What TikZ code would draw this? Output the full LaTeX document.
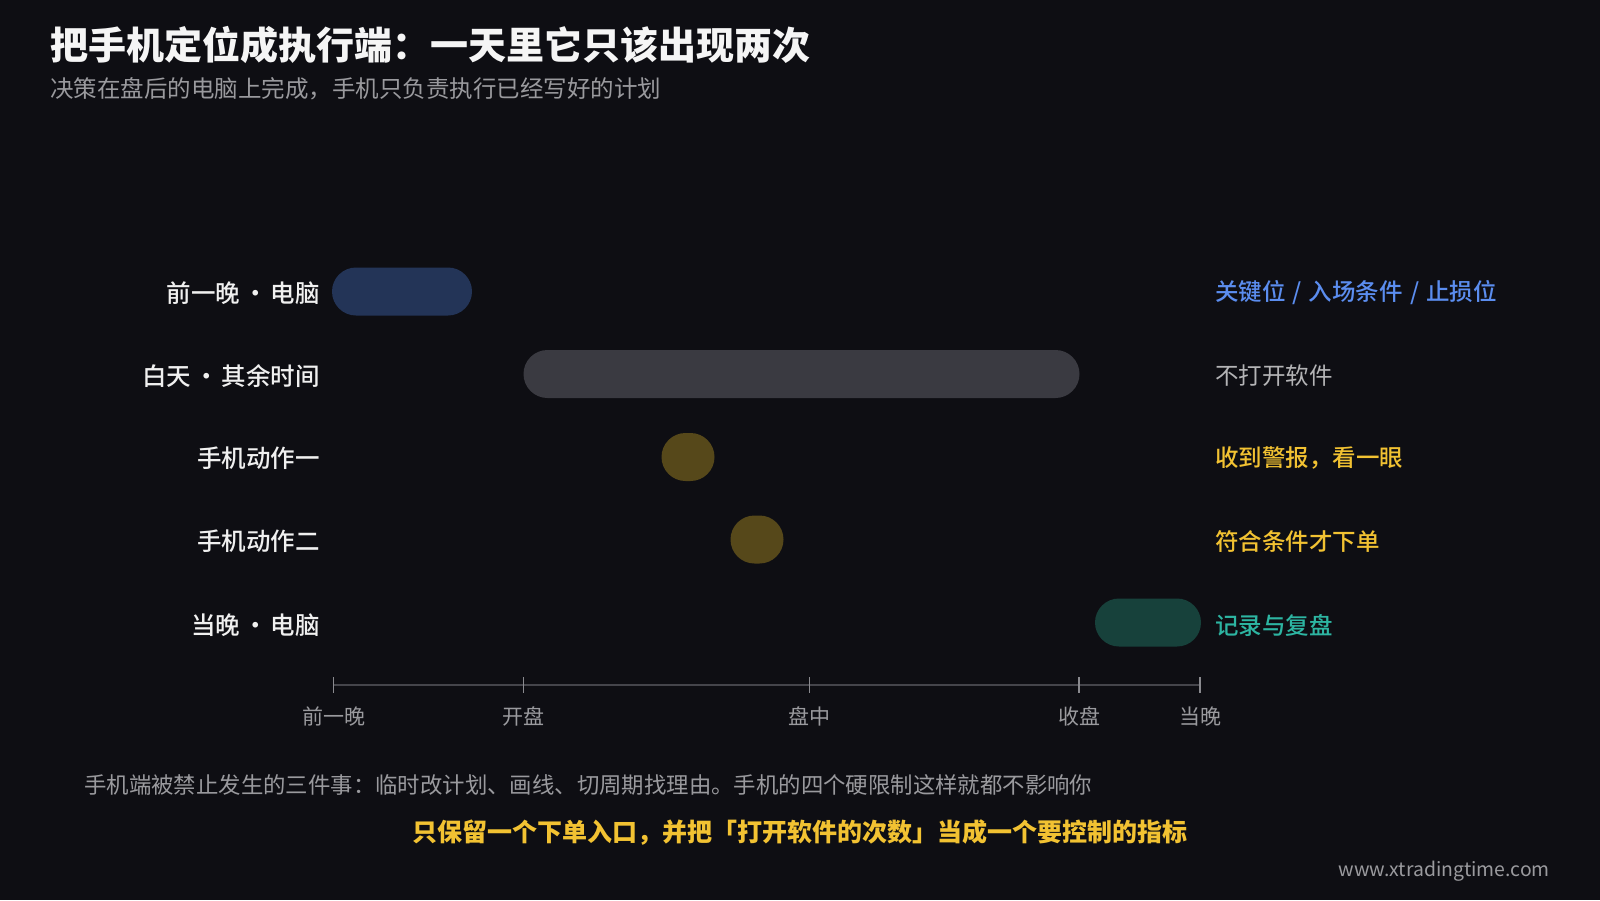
\documentclass[tikz,border=0pt]{standalone}
\usepackage{fontspec}
\setmainfont{Noto Sans CJK SC}
\newfontfamily\medfont{Noto Sans CJK SC Medium}
\usepackage{tikz}
\usetikzlibrary{positioning}

\definecolor{bgdark}{HTML}{0E0E13}
\definecolor{barblue}{HTML}{233457}
\definecolor{bargray}{HTML}{3A3A41}
\definecolor{barolive}{HTML}{56481A}
\definecolor{barteal}{HTML}{17413B}
\definecolor{txtblue}{HTML}{5B8DEF}
\definecolor{txtgray}{HTML}{B4B4B6}
\definecolor{txtyellow}{HTML}{F2C232}
\definecolor{txtteal}{HTML}{2DB5A2}
\definecolor{dimgray}{HTML}{9A9A9E}
\definecolor{axisgray}{HTML}{45454B}
\definecolor{tickgray}{HTML}{8A8A8F}

\def\fsize#1{\fontsize{#1}{#1}\selectfont}
\def\sdot{\hspace{0.12em}·\hspace{0.12em}}
\def\sslash{\hspace{0.3em}/\hspace{0.3em}}

\tikzset{
	rowlabel/.style={anchor=east, inner sep=0pt, text=white!94!black, font=\medfont\fsize{24.5}},
	notelabel/.style={anchor=west, inner sep=0pt, font=\medfont\fsize{23.5}},
	pill/.style={inner sep=0pt, minimum height=48pt, rounded corners=24pt},
	ticklabel/.style={inner sep=0pt, text=dimgray, font=\fsize{21}},
}

\begin{document}
\begin{tikzpicture}[x=1pt, y=-1pt]
			%%%%% START %%%%%
			
			\fill[bgdark] (0,0) rectangle (1600,900);
			\useasboundingbox (0,0) rectangle (1600,900);
			
			\node[anchor=west, inner sep=0pt, text=white!96!black, font=\bfseries\fsize{38}] (title) at (50,45) {把手机定位成执行端：一天里它只该出现两次};
			\node[anchor=west, inner sep=0pt, text=dimgray, font=\fsize{23.5}] (subtitle) at (50,89) {决策在盘后的电脑上完成，手机只负责执行已经写好的计划};
			
			\node[rowlabel] (lab1) at (320,293) {前一晚\sdot 电脑};
			\node[pill, fill=barblue, minimum width=140pt] (bar1) at (402,291.5) {};
			\node[notelabel, text=txtblue] (note1) at (1215,293) {关键位\sslash 入场条件\sslash 止损位};
			
			\node[rowlabel] (lab2) at (320,376) {白天\sdot 其余时间};
			\node[pill, fill=bargray, minimum width=556pt] (bar2) at (801.5,374) {};
			\node[notelabel, text=txtgray, font=\fsize{23.5}] (note2) at (1215,376) {不打开软件};
			
			\node[rowlabel] (lab3) at (320,458) {手机动作一};
			\node[pill, fill=barolive, minimum width=53pt] (dot1) at (688,457) {};
			\node[notelabel, text=txtyellow] (note3) at (1215,458) {收到警报，看一眼};
			
			\node[rowlabel] (lab4) at (320,541) {手机动作二};
			\node[pill, fill=barolive, minimum width=53pt] (dot2) at (757,539.5) {};
			\node[notelabel, text=txtyellow] (note4) at (1215,541.5) {符合条件才下单};
			
			\node[rowlabel] (lab5) at (320,625) {当晚\sdot 电脑};
			\node[pill, fill=barteal, minimum width=106pt] (bar5) at (1148,622.5) {};
			\node[notelabel, text=txtteal] (note5) at (1215,625) {记录与复盘};
			
			\coordinate (t0) at (333.5,685);
			\coordinate (t1) at (523.5,685);
			\coordinate (t2) at (809.5,685);
			\coordinate (t3) at (1079,685);
			\coordinate (t4) at (1200,685);
			\draw[line width=2pt, color=axisgray] (t0) -- (t4);
			\draw[line width=1.5pt, color=tickgray] (t0) ++(0,-8) -- ++(0,16);
			\draw[line width=1.5pt, color=tickgray] (t1) ++(0,-8) -- ++(0,16);
			\draw[line width=1.5pt, color=tickgray] (t2) ++(0,-8) -- ++(0,16);
			\draw[line width=1.5pt, color=tickgray] (t3) ++(0,-8) -- ++(0,16);
			\draw[line width=1.5pt, color=tickgray] (t4) ++(0,-8) -- ++(0,16);
			
			\node[ticklabel] (tl0) at (333.5,716.5) {前一晚};
			\node[ticklabel] (tl1) at (523.5,716.5) {开盘};
			\node[ticklabel] (tl2) at (809.5,716.5) {盘中};
			\node[ticklabel] (tl3) at (1079,716.5) {收盘};
			\node[ticklabel] (tl4) at (1200,716.5) {当晚};
			
			\node[anchor=west, inner sep=0pt, text=dimgray, font=\fsize{22.4}] (rules) at (84,785) {手机端被禁止发生的三件事：临时改计划、画线、切周期找理由。手机的四个硬限制这样就都不影响你};
			\node[inner sep=0pt, text=txtyellow, font=\bfseries\fsize{25}] (keyline) at (800,832.5) {只保留一个下单入口，并把「打开软件的次数」当成一个要控制的指标};
			\node[anchor=east, inner sep=0pt, text=dimgray, font=\fsize{19.4}] (site) at (1550,871) {www.xtradingtime.com};
			
			%%%%% END %%%%%
\end{tikzpicture}
\end{document}
